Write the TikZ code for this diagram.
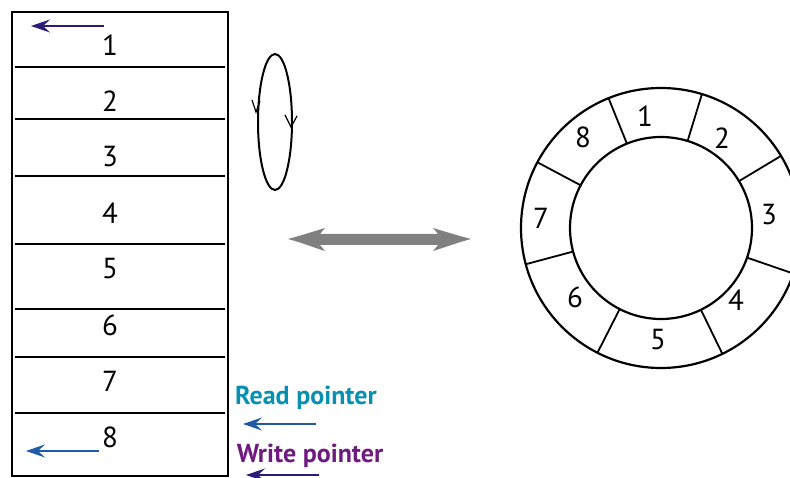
\documentclass[tikz,border=0pt]{standalone}
\usepackage{fontspec}
\setmainfont{PT Sans}
\usetikzlibrary{arrows.meta,calc}
\definecolor{ptrblue}{HTML}{1F5AA6}
\definecolor{ptrindigo}{HTML}{2E1A7A}
\definecolor{readcol}{HTML}{0890B0}
\definecolor{writecol}{HTML}{6E1A7E}
\definecolor{dblgray}{HTML}{808080}
\begin{document}
\begin{tikzpicture}[x=1pt,y=-1pt,
  cellnum/.style={font=\fontsize{29}{29}\selectfont, inner sep=0pt},
  ringnum/.style={font=\fontsize{29}{29}\selectfont, inner sep=0pt},
  divider/.style={line width=1.8pt},
  ringline/.style={line width=2.2pt},
  ptrarrow/.style={line width=1.7pt, -{Stealth[length=19pt,width=13pt,inset=7pt]}},
  ptrlabel/.style={font=\fontsize{26}{26}\selectfont\bfseries, inner sep=0pt},
  vmark/.style={line width=1.2pt}
]
\useasboundingbox (0,0) rectangle (790,478);

% ---- linear buffer ----
\draw[line width=2pt] (12,12) rectangle (228,476);
\foreach \yy in {67,119,176,244,309,357,413}
  \draw[divider] (15,\yy) -- (225,\yy);
\foreach \n/\yy in {1/45,2/101,3/157,4/213,5/269,6/325,7/381,8/437}
  \node[cellnum] (cell\n) at (110,\yy) {\n};

% pointers inside the buffer
\coordinate (wtail) at (104,26);
\coordinate (whead) at (31,26);
\draw[ptrarrow, ptrindigo] (wtail) -- (whead);
\coordinate (rtail) at (99,451);
\coordinate (rhead) at (26,451);
\draw[ptrarrow, ptrblue] (rtail) -- (rhead);

% ---- legend ----
\node[ptrlabel, text=readcol] (readlbl) at (306,398) {Read pointer};
\coordinate (rltail) at (316,424);
\coordinate (rlhead) at (243,424);
\draw[ptrarrow, ptrblue] (rltail) -- (rlhead);
\node[ptrlabel, text=writecol] (writelbl) at (310,456) {Write pointer};
\coordinate (wltail) at (319,475);
\coordinate (wlhead) at (246,475);
\draw[ptrarrow, ptrindigo] (wltail) -- (wlhead);

% ---- wrap-around loop ----
\coordinate (loopc) at (275,122);
\draw[line width=2pt] (loopc) ellipse[x radius=17pt, y radius=68pt];
\draw[vmark] (252,100) -- (256,112) -- (260,101);
\draw[vmark] (285,115) -- (291,127) -- (297,116);

% ---- equivalence arrow ----
\fill[dblgray] (288,239) .. controls (303,235) and (315,231) .. (325,228)
  -- (320,234) -- (438,234) -- (433,228)
  .. controls (443,231) and (456,235) .. (471,239)
  .. controls (456,243) and (443,248) .. (433,251)
  -- (438,245) -- (320,245) -- (325,251)
  .. controls (315,248) and (303,243) .. (288,239) -- cycle;

% ---- ring buffer ----
\coordinate (rc) at (661,228);
\draw[ringline] (rc) circle[radius=140pt];
\draw[ringline] (rc) circle[radius=91pt];
\foreach \a [count=\i] in {112,73,31,-19,-64,-117,-165,152}{
  \coordinate (in\i) at ($(rc)+(\a:91pt)$);
  \coordinate (out\i) at ($(rc)+(\a:140pt)$);
  \draw[divider] (in\i) -- (out\i);
}
\node[ringnum] (slot1) at (645,116) {1};
\node[ringnum] (slot2) at (722,138) {2};
\node[ringnum] (slot3) at (769,215) {3};
\node[ringnum] (slot4) at (736,300) {4};
\node[ringnum] (slot5) at (658,340) {5};
\node[ringnum] (slot6) at (575,297) {6};
\node[ringnum] (slot7) at (541,218) {7};
\node[ringnum] (slot8) at (583,137) {8};
\end{tikzpicture}
\end{document}
